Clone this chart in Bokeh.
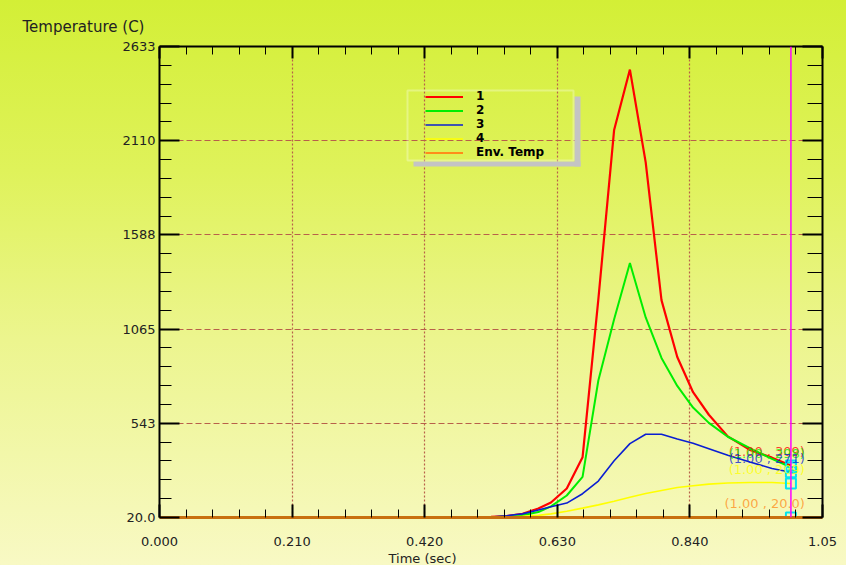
from bokeh.plotting import figure
from bokeh.models import (Range1d, FixedTicker, LinearAxis, Span, BoxAnnotation, Title,
                          Legend, LegendItem, ColumnDataSource, CustomJSTickFormatter)
from bokeh.core.properties import value
from bokeh.embed import file_html
from bokeh.resources import INLINE

# ---------------- data ----------------
time = [0.0, 0.45, 0.5, 0.525, 0.55, 0.575, 0.6, 0.62, 0.645, 0.67, 0.695, 0.72,
        0.745, 0.77, 0.795, 0.82, 0.845, 0.87, 0.9, 0.935, 0.97, 1.0]
temp_1 = [20, 20, 21, 23, 28, 40, 70, 103, 181, 354, 1230, 2170,
          2505, 1990, 1226, 910, 715, 590, 470, 395, 352, 309]
temp_2 = [20, 20, 21, 22, 25, 32, 50, 82, 142, 245, 780, 1120,
          1432, 1130, 905, 750, 630, 545, 468, 405, 345, 298]
temp_3 = [20, 20, 20, 22, 30, 40, 62, 80, 100, 152, 222, 335,
          430, 482, 482, 455, 432, 402, 365, 328, 292, 271]
temp_4 = [20, 20, 20, 20, 22, 26, 32, 40, 55, 72, 90, 110,
          132, 153, 170, 186, 196, 205, 211, 214, 214, 209]
env_temp = [20] * len(time)

series_names = ["1", "2", "3", "4", "Env. Temp"]
series_colors = ["#ff0000", "#00ee00", "#0a1ed2", "#ffff00", "#ff8c1a"]
series_widths = [2.2, 2.0, 1.6, 1.6, 2.0]

x_ticks = [0.0, 0.21, 0.42, 0.63, 0.84, 1.05]
x_tick_labels = ["0.000", "0.210", "0.420", "0.630", "0.840", "1.05"]
y_ticks = [20.0, 542.6, 1065.2, 1587.8, 2110.4, 2633.0]
y_tick_labels = ["20.0", "543", "1065", "1588", "2110", "2633"]
cursor_time = 1.0

FONT = "DejaVu Sans"

x_minor = [x_ticks[i] + (x_ticks[i + 1] - x_ticks[i]) * k / 5
           for i in range(len(x_ticks) - 1) for k in range(1, 5)]
y_minor = [y_ticks[i] + (y_ticks[i + 1] - y_ticks[i]) * k / 5
           for i in range(len(y_ticks) - 1) for k in range(1, 5)]

# ---------------- figure ----------------
p = figure(width=846, height=565, output_backend="svg", toolbar_location=None,
           x_range=Range1d(x_ticks[0], x_ticks[-1]), y_range=Range1d(y_ticks[0], y_ticks[-1]),
           min_border_left=159, min_border_right=24, min_border_top=46, min_border_bottom=48)
p.background_fill_alpha = 0
p.border_fill_alpha = 0
p.outline_line_alpha = 0
p.styles = {"background": "linear-gradient(180deg, #d3ef36 0%, #dff25a 30%, #ecf58e 60%, #f8f9c4 100%)"}

# y-axis title (top-left) as plot title
p.title.text = "Temperature (C)"
p.title.align = "left"
p.title.offset = -137
p.title.text_font = FONT
p.title.text_font_size = "15px"
p.title.text_font_style = "normal"
p.title.text_color = "#222222"
p.title.standoff = 21

xt = FixedTicker(ticks=x_ticks, minor_ticks=x_minor)
yt = FixedTicker(ticks=y_ticks, minor_ticks=y_minor)

# bottom axis
xa = p.xaxis[0]
xa.ticker = xt
xa.major_label_overrides = dict(zip(x_ticks, x_tick_labels))
xa.axis_line_color = "#c8700f"
xa.axis_line_width = 3
xa.major_tick_in = 13
xa.major_tick_out = 0
xa.minor_tick_in = 8
xa.minor_tick_out = 0
xa.major_tick_line_color = "black"
xa.major_tick_line_width = 2
xa.minor_tick_line_color = "black"
xa.major_label_standoff = 19
xa.major_label_text_font = FONT
xa.major_label_text_font_size = "13px"
xa.major_label_text_color = "#222222"

# left axis
ya = p.yaxis[0]
ya.ticker = yt
ya.major_label_overrides = dict(zip(y_ticks, y_tick_labels))
ya.axis_line_color = "black"
ya.axis_line_width = 2
ya.major_tick_in = 20
ya.major_tick_out = 0
ya.minor_tick_in = 12
ya.minor_tick_out = 0
ya.major_tick_line_width = 2
ya.major_label_standoff = 4
ya.major_label_text_font = FONT
ya.major_label_text_font_size = "13px"
ya.major_label_text_color = "#222222"

# mirrored top / right axes (ticks only)
blank = CustomJSTickFormatter(code="return ''")
top = LinearAxis(ticker=xt, formatter=blank, major_tick_in=12, major_tick_out=0,
                 minor_tick_in=8, minor_tick_out=0, axis_line_width=2,
                 major_tick_line_width=2, major_label_standoff=0)
p.add_layout(top, "above")
right = LinearAxis(ticker=yt, formatter=blank, major_tick_in=20, major_tick_out=0,
                   minor_tick_in=15, minor_tick_out=0, axis_line_width=2,
                   major_tick_line_width=2, major_label_standoff=0)
p.add_layout(right, "right")

# x-axis title, below the tick labels, left of centre as in the original
p.add_layout(Title(text="Time (sec)", align="left", offset=229, text_font=FONT,
                   text_font_size="13px", text_font_style="normal",
                   text_color="#222222", standoff=0), "below")

# grids
p.xgrid.ticker = xt
p.xgrid.grid_line_color = "#b8604a"
p.xgrid.grid_line_dash = "2 2"
p.xgrid.grid_line_width = 1.2
p.ygrid.ticker = yt
p.ygrid.grid_line_color = "#b8604a"
p.ygrid.grid_line_dash = "6 3"
p.ygrid.grid_line_width = 1.2

# ---------------- series ----------------
all_series = [temp_1, temp_2, temp_3, temp_4, env_temp]
renderers = []
for vals, col, w in zip(all_series, series_colors, series_widths):
    r = p.line(time, vals, line_color=col, line_width=w)
    renderers.append(r)

# cursor line
p.add_layout(Span(location=cursor_time, dimension="height", line_color="#ff00ff", line_width=1.5))

# end-point markers and readouts
end_idx = time.index(cursor_time)
end_vals = [s[end_idx] for s in all_series]
p.scatter([cursor_time] * len(end_vals), end_vals, marker="square", size=10,
          fill_alpha=0, line_color="#00e5f0", line_width=2)

def fmt(v):
    return f"{v:.1f}" if v < 100 else f"{v:.0f}"

readout = ColumnDataSource(dict(
    x=[cursor_time] * len(end_vals), y=end_vals,
    txt=[f"({cursor_time:.2f} , {fmt(v)})" for v in end_vals],
    col=series_colors))
p.text(x="x", y="y", text="txt", text_color="col", source=readout, text_alpha=0.75,
       text_font=value(FONT), text_font_size="13px", text_align="right",
       text_baseline="middle", x_offset=14, y_offset=-14)

# ---------------- legend ----------------
# legend frame + shadow (screen units, relative to frame bottom-left)
box_kw = dict(left_units="screen", right_units="screen", top_units="screen", bottom_units="screen")
p.add_layout(BoxAnnotation(left=415, right=421, top=421, bottom=351, fill_color="#c4c4c4",
                           fill_alpha=1, line_alpha=0, **box_kw))
p.add_layout(BoxAnnotation(left=254, right=421, top=356, bottom=351, fill_color="#c4c4c4",
                           fill_alpha=1, line_alpha=0, **box_kw))
p.add_layout(BoxAnnotation(left=248, right=414, top=427, bottom=357, fill_alpha=0,
                           line_color="white", line_width=2, **box_kw))

legend = Legend(items=[LegendItem(label=n, renderers=[r]) for n, r in zip(series_names, renderers)],
                location=(266, 358), background_fill_alpha=0, border_line_alpha=0,
                padding=0, margin=0, spacing=0, glyph_width=38, glyph_height=13,
                label_height=13, label_standoff=13, label_text_font=FONT,
                label_text_font_style="bold", label_text_font_size="12px",
                label_text_color="black")
p.add_layout(legend)

open("out.html", "w").write(file_html(p, INLINE))
